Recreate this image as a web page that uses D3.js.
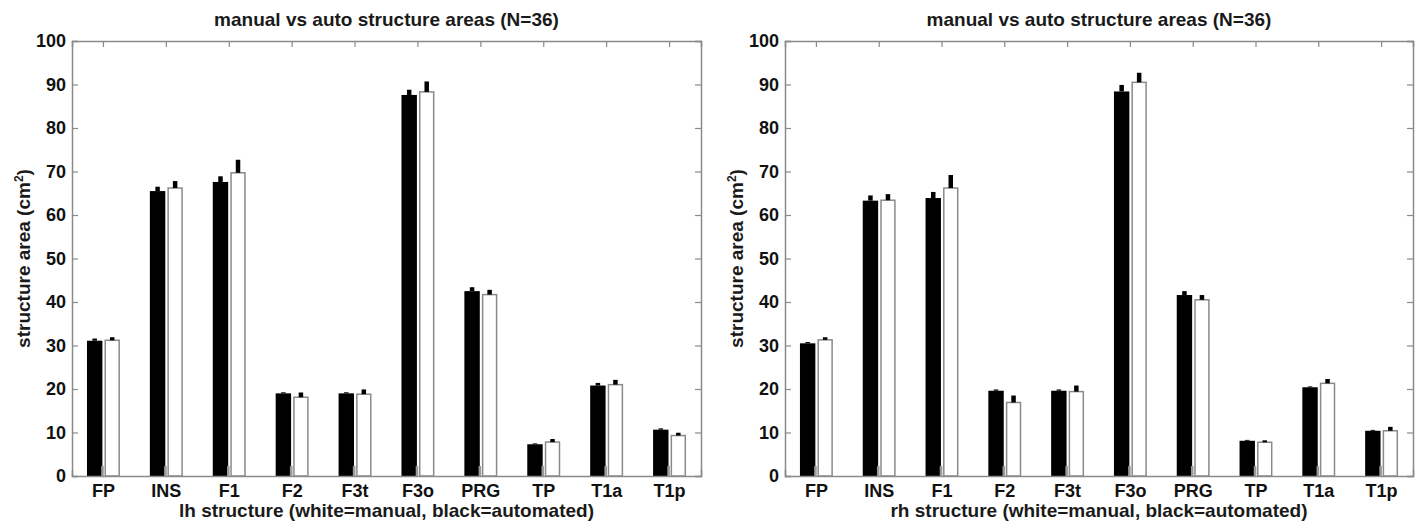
<!DOCTYPE html>
<html>
<head>
<meta charset="utf-8">
<script src="https://cdn.jsdelivr.net/npm/d3@7"></script>
<style>
  html, body { margin: 0; padding: 0; background: #fff; }
  svg { display: block; font-family: "Liberation Sans", Arial, Helvetica, sans-serif; }
</style>
</head>
<body>
<svg id="chart" width="1422" height="523"></svg>
<script>
// ---- data ----
const categories = ["FP", "INS", "F1", "F2", "F3t", "F3o", "PRG", "TP", "T1a", "T1p"];
const yTicks = [0, 10, 20, 30, 40, 50, 60, 70, 80, 90, 100];
const series = ["automated", "manual"];

const lhAuto      = [31.1, 65.5, 67.6, 19.0, 19.0, 87.6, 42.5, 7.3, 20.8, 10.65];
const lhAutoErr   = [0.5, 1.0, 1.3, 0.25, 0.25, 1.2, 0.9, 0.2, 0.6, 0.3];
const lhManual    = [31.2, 66.2, 69.7, 18.1, 18.8, 88.3, 41.7, 7.8, 21.0, 9.3];
const lhManualErr = [0.7, 1.6, 3.0, 1.1, 1.1, 2.4, 1.1, 0.7, 1.1, 0.65];

const rhAuto      = [30.5, 63.3, 63.9, 19.6, 19.6, 88.4, 41.6, 8.1, 20.4, 10.4];
const rhAutoErr   = [0.3, 1.2, 1.4, 0.3, 0.3, 1.5, 0.9, 0.2, 0.2, 0.2];
const rhManual    = [31.3, 63.4, 66.2, 16.9, 19.4, 90.5, 40.5, 7.75, 21.3, 10.4];
const rhManualErr = [0.6, 1.4, 3.0, 1.6, 1.4, 2.2, 1.1, 0.45, 1.0, 0.9];

const titleText = "manual vs auto structure areas (N=36)";
const panels = [
  { xLabel: "lh structure (white=manual, black=automated)", auto: lhAuto, autoErr: lhAutoErr, manual: lhManual, manualErr: lhManualErr, left: 72, right: 701 },
  { xLabel: "rh structure (white=manual, black=automated)", auto: rhAuto, autoErr: rhAutoErr, manual: rhManual, manualErr: rhManualErr, left: 785, right: 1413 }
];

// ---- drawing ----
const svg = d3.select("#chart");
const plotTop = 41, plotBottom = 476;
const axisColor = "#8a8a8a";

panels.forEach(p => {
  const g = svg.append("g");
  const x = d3.scaleBand().domain(categories).range([p.left, p.right]).paddingInner(0).paddingOuter(0);
  const y = d3.scaleLinear().domain([0, 100]).range([plotBottom, plotTop]);
  const bw = x.bandwidth();
  const x1 = d3.scaleBand().domain(series).range([-0.262 * bw, 0.262 * bw]).paddingInner(0.12);
  const cx = c => x(c) + bw / 2;

  // axes box
  const left = g.append("g").attr("transform", `translate(${p.left},0)`)
    .call(d3.axisLeft(y).tickValues(yTicks).tickSize(-6).tickPadding(6));
  const right = g.append("g").attr("transform", `translate(${p.right},0)`)
    .call(d3.axisRight(y).tickValues(yTicks).tickSize(-6).tickFormat(""));
  const topAx = g.append("g").attr("transform", `translate(0,${plotTop})`)
    .call(d3.axisTop(x).tickSize(-6).tickFormat(""));
  [left, right, topAx].forEach(a => {
    a.select(".domain").attr("stroke", axisColor).attr("stroke-width", 1.5);
    a.selectAll(".tick line").attr("stroke", axisColor).attr("stroke-width", 1.2);
  });
  left.selectAll(".tick text").attr("font-size", 18).attr("font-weight", "bold").attr("fill", "#111");

  const rows = categories.map((c, i) => ({ c, auto: p.auto[i], autoErr: p.autoErr[i], manual: p.manual[i], manualErr: p.manualErr[i] }));

  // black (automated) bars
  g.selectAll(".ba").data(rows).enter().append("rect")
    .attr("x", d => cx(d.c) + x1("automated"))
    .attr("y", d => y(d.auto))
    .attr("width", x1.bandwidth())
    .attr("height", d => y(0) - y(d.auto))
    .attr("fill", "#000");
  // small gray base marks next to black bars
  g.selectAll(".gm").data(rows).enter().append("rect")
    .attr("x", d => cx(d.c) + x1("automated") + x1.bandwidth() - 1.2)
    .attr("y", y(2.3))
    .attr("width", 2.6)
    .attr("height", y(0) - y(2.3))
    .attr("fill", "#9a9a9a");
  // white (manual) bars
  g.selectAll(".bm").data(rows).enter().append("rect")
    .attr("x", d => cx(d.c) + x1("manual") + 0.75)
    .attr("y", d => y(d.manual))
    .attr("width", x1.bandwidth() - 1.5)
    .attr("height", d => y(0) - y(d.manual))
    .attr("fill", "#fff").attr("stroke", axisColor).attr("stroke-width", 1.5);
  // error bars (upper only)
  g.selectAll(".ea").data(rows).enter().append("line")
    .attr("x1", d => cx(d.c) + x1("automated") + x1.bandwidth() / 2)
    .attr("x2", d => cx(d.c) + x1("automated") + x1.bandwidth() / 2)
    .attr("y1", d => y(d.auto)).attr("y2", d => y(d.auto + d.autoErr))
    .attr("stroke", "#000").attr("stroke-width", 4.5);
  g.selectAll(".em").data(rows).enter().append("line")
    .attr("x1", d => cx(d.c) + x1("manual") + x1.bandwidth() / 2)
    .attr("x2", d => cx(d.c) + x1("manual") + x1.bandwidth() / 2)
    .attr("y1", d => y(d.manual)).attr("y2", d => y(d.manual + d.manualErr))
    .attr("stroke", "#000").attr("stroke-width", 4.5);

  // bottom axis drawn on top of bars
  const bot = g.append("g").attr("transform", `translate(0,${plotBottom})`)
    .call(d3.axisBottom(x).tickSize(-6).tickPadding(8));
  bot.select(".domain").attr("stroke", axisColor).attr("stroke-width", 1.5);
  bot.selectAll(".tick line").attr("stroke", axisColor).attr("stroke-width", 1.2).attr("opacity", 0);
  bot.selectAll(".tick text").attr("font-size", 18).attr("font-weight", "bold").attr("fill", "#111");

  const mid = (p.left + p.right) / 2;
  // title
  g.append("text").attr("x", mid).attr("y", 26).attr("text-anchor", "middle")
    .attr("font-size", 19).attr("font-weight", "bold").attr("fill", "#1a1a1a").text(titleText);
  // x label
  g.append("text").attr("x", mid).attr("y", 517).attr("text-anchor", "middle")
    .attr("font-size", 19).attr("font-weight", "bold").attr("fill", "#1a1a1a").text(p.xLabel);
  // y label
  const yl = g.append("text")
    .attr("transform", `translate(${p.left - 42},${(plotTop + plotBottom) / 2}) rotate(-90)`)
    .attr("text-anchor", "middle")
    .attr("font-size", 19).attr("font-weight", "bold").attr("fill", "#1a1a1a");
  yl.append("tspan").text("structure area (cm");
  yl.append("tspan").attr("font-size", 12).attr("dy", -7).text("2");
  yl.append("tspan").attr("dy", 7).text(")");
});
</script>
</body>
</html>
